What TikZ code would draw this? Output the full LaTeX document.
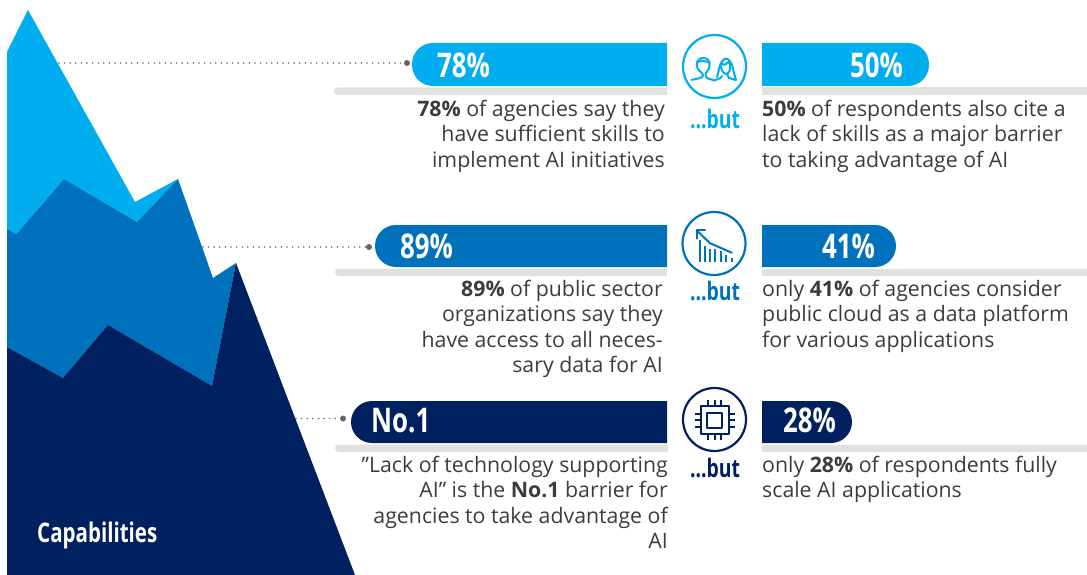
\documentclass[tikz,border=0pt]{standalone}
\usepackage{fontspec}
\setmainfont{Open Sans}
\newfontfamily\condb[FakeStretch=0.76]{Open Sans Bold}
\definecolor{lightb}{HTML}{00AEEF}
\definecolor{midb}{HTML}{0071BC}
\definecolor{navyb}{HTML}{00205F}
\definecolor{barg}{HTML}{E1E1E0}
\definecolor{txt}{HTML}{3C3C3E}
\definecolor{dotg}{HTML}{636466}
\tikzset{
 x=1pt,y=-1pt,
 graybar/.style={fill=barg},
 leader/.style={dotg,line width=1.7pt,line cap=round,dash pattern=on 0pt off 5.6pt},
 enddot/.style={circle,fill=dotg,inner sep=0pt,minimum size=6pt},
 bodyl/.style={anchor=north east,align=right,text=txt,font=\fontsize{21.3}{25.4}\selectfont,inner sep=0pt},
 bodyr/.style={anchor=north west,align=left,text=txt,font=\fontsize{21.3}{25.4}\selectfont,inner sep=0pt},
 pilltext/.style={text=white,font=\fontsize{34}{34}\condb,inner sep=0pt,anchor=base west},
 buttext/.style={font=\fontsize{25.5}{25.5}\condb,inner sep=0pt,anchor=base},
 ring/.style={circle,draw=#1,line width=2.2pt,minimum size=63pt,inner sep=0pt,fill=white},
 icon/.style={line width=2pt,line cap=round,line join=round},
}
\begin{document}
\begin{tikzpicture}
\useasboundingbox (0,0) rectangle (1087,575);
% mountains
\fill[lightb] (7,52)--(28,10)--(135,202)--(178,179)--(137,222)--(64,179)--(16.5,234)--(7,229)--cycle;
\fill[midb] (7,229)--(16.5,234)--(64,179)--(137,222)--(178,179)--(213,278)--(236,263)--(212,386)--(108,325)--(63,378)--(7,347)--cycle;
\fill[navyb] (7,347)--(63,378)--(108,325)--(212,386)--(236,263)--(355,575)--(7,575)--cycle;
\node[text=white,font=\fontsize{27}{27}\condb,inner sep=0pt,anchor=base west] (cap) at (37,542) {Capabilities};
% gray bars
\fill[graybar,rounded corners=3.4pt] (334,87.5) rectangle (670,95);
\fill[white] (667,85) rectangle (672,97);
\fill[graybar] (762,87.5) rectangle (1087,95);
\fill[graybar,rounded corners=3.4pt] (335,268.5) rectangle (670,276);
\fill[white] (667,265) rectangle (672,278);
\fill[graybar] (762,268.5) rectangle (1087,276);
\fill[graybar,rounded corners=3.4pt] (335,444.5) rectangle (670,452);
\fill[white] (668,440) rectangle (672,454);
\fill[graybar] (762,444.5) rectangle (1087,452);
% leaders
\node[enddot] (d1) at (407,63) {};
\node[enddot] (d2) at (369,247) {};
\node[enddot] (d3) at (343,418.5) {};
\coordinate (s1) at (59,63);
\coordinate (s2) at (203,247);
\coordinate (s3) at (296,418.5);
\draw[leader] (s1) -- (d1);
\draw[leader] (s2) -- (d2);
\draw[leader] (s3) -- (d3);
% pills
\fill[lightb] (667,43) {[rounded corners=21pt] -- (412,43) -- (412,86)} -- (667,86) -- cycle;
\fill[lightb] (762,43) {[rounded corners=21pt] -- (929,43) -- (929,86)} -- (762,86) -- cycle;
\fill[midb] (667,225) {[rounded corners=21pt] -- (375,225) -- (375,267)} -- (667,267) -- cycle;
\fill[midb] (762,225) {[rounded corners=21pt] -- (896,225) -- (896,267)} -- (762,267) -- cycle;
\fill[navyb] (667,401) {[rounded corners=21pt] -- (351,401) -- (351,443)} -- (667,443) -- cycle;
\fill[navyb] (762,401) {[rounded corners=21pt] -- (852,401) -- (852,443)} -- (762,443) -- cycle;
\node[pilltext] (p1) at (437,78) {78\%};
\node[pilltext] (p2) at (850,78) {50\%};
\node[pilltext] (p3) at (400,258) {89\%};
\node[pilltext] (p4) at (822,258) {41\%};
\node[pilltext] (p5) at (371,432) {No.1};
\node[pilltext] (p6) at (783,432) {28\%};
% body text
\node[bodyl] (t1) at (665,100) {\textbf{78\%} of agencies say they\\have sufficient skills to\\implement AI initiatives};
\node[bodyr] (t2) at (762,100) {\textbf{50\%} of respondents also cite a\\lack of skills as a major barrier\\to taking advantage of AI};
\node[bodyl] (t3) at (663,280) {\textbf{89\%} of public sector\\organizations say they\\have access to all neces-\\sary data for AI};
\node[bodyr] (t4) at (762,280) {only \textbf{41\%} of agencies consider\\public cloud as a data platform\\for various applications};
\node[bodyl] (t5) at (668,456) {”Lack of technology supporting\\AI” is the \textbf{No.1} barrier for\\agencies to take advantage of\\AI};
\node[bodyr] (t6) at (762,456) {only \textbf{28\%} of respondents fully\\scale AI applications};
% rings
\node[ring=lightb] (r1) at (714.5,66.5) {};
\node[ring=midb] (r2) at (714,243.5) {};
\node[ring=navyb] (r3) at (714.5,419.5) {};
\node[buttext,text=lightb] (b1) at (715,128.5) {...but};
\node[buttext,text=midb] (b2) at (715,300) {...but};
\node[buttext,text=navyb] (b3) at (715,477.5) {...but};
% icon 1: two heads
\draw[icon,lightb] (691.7,79.8) .. controls (698,78.5) and (703,78) .. (703,75.5) .. controls (703,72) and (696.7,71) .. (696.7,65) .. controls (696.7,60) and (700,58) .. (703.5,58) .. controls (708,58) and (710,61) .. (709.5,66) .. controls (709,71) and (705,72) .. (705.5,75.5) .. controls (706,79) and (711,79) .. (714,80.5) .. controls (717,79) and (721,79) .. (722,76);
\draw[icon,lightb] (696.7,62.5) .. controls (700,60.5) and (705,60.5) .. (709.5,62.5);
\draw[icon,lightb] (717,77) .. controls (719,72) and (719,60) .. (726,58.5) .. controls (733,60) and (733,72) .. (736,80);
\draw[icon,lightb] (721.5,63) .. controls (725,67) and (727,63) .. (729,61.5) .. controls (731,66) and (731,71) .. (727,74) .. controls (723,74) and (720,70) .. (721.5,63);
\draw[icon,lightb] (727,74) -- (729,78) -- (736,80);
% icon 2: chart
\foreach \bx/\by in {700/240.3,705/245.6,710/249,715/249,720.7/251,726/254.5,731.7/258}
  \draw[icon,midb,line cap=butt] (\bx,261.5) -- (\bx,\by);
\draw[icon,midb] (731.7,252.7) -- (710,243.2) -- (696.7,230.4);
\draw[icon,midb] (696.7,238.6) -- (696.7,230.4) -- (705,230.4);
% icon 3: chip
\draw[icon,navyb] (700.5,406) rectangle (728.5,434);
\draw[icon,navyb] (707,412.5) rectangle (722,427.5);
\foreach \d in {-6.5,0,6.5}{
  \draw[icon,navyb,line cap=butt] (714.5+\d,406) -- (714.5+\d,400);
  \draw[icon,navyb,line cap=butt] (714.5+\d,434) -- (714.5+\d,440);
  \draw[icon,navyb,line cap=butt] (700.5,420+\d) -- (694.5,420+\d);
  \draw[icon,navyb,line cap=butt] (728.5,420+\d) -- (734.5,420+\d);
}
\end{tikzpicture}
\end{document}
